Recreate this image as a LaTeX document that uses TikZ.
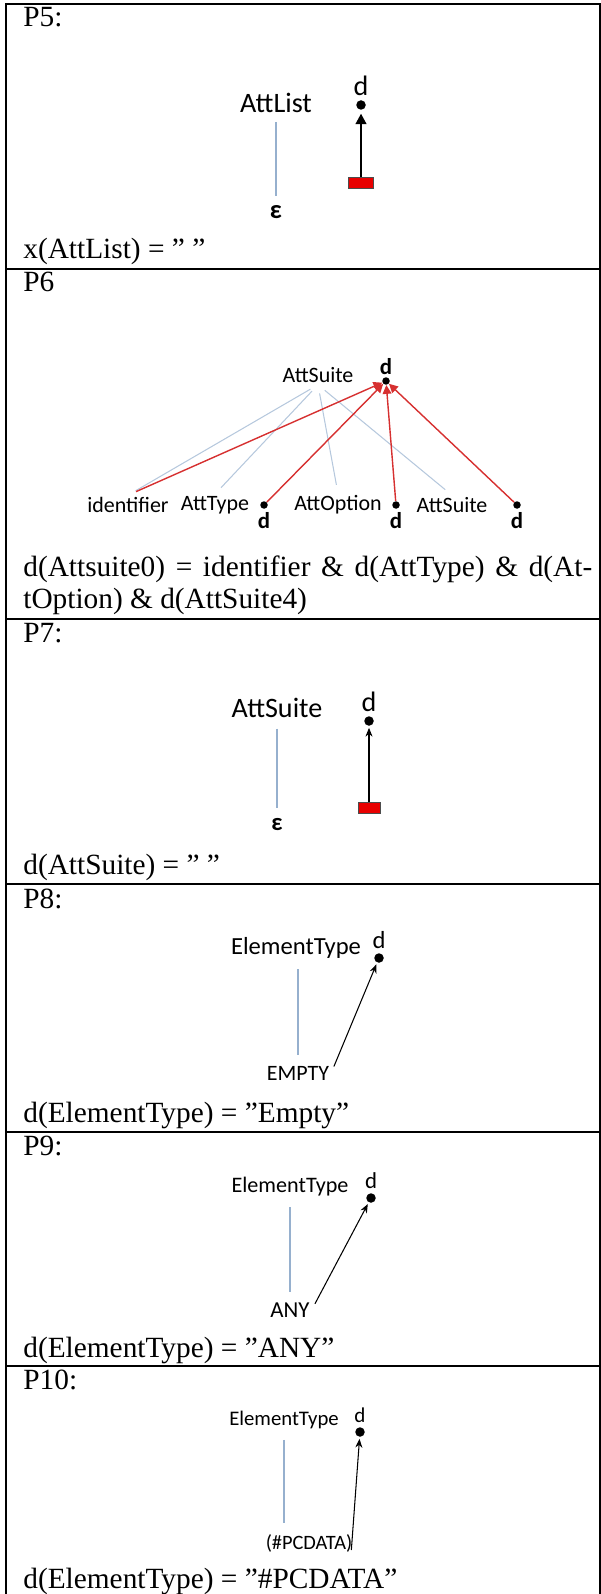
\documentclass[tikz,border=0pt]{standalone}
\usepackage{fontspec}
\setmainfont{Liberation Serif}
\newfontfamily\sansfont{Carlito}
\usetikzlibrary{arrows.meta, positioning}

\definecolor{treeblue}{RGB}{150, 176, 206}
\definecolor{linkred}{RGB}{214, 48, 48}
\definecolor{nullred}{RGB}{232, 0, 0}

\begin{document}
\begin{tikzpicture}[x=0.02cm, y=-0.02cm,
  head/.style={font=\fontsize{16.7}{18.7}\selectfont, anchor=base west, inner sep=0pt},
  sym/.style={font=\sansfont\fontsize{#1}{#1}\selectfont, inner sep=1pt},
  sym/.default=12,
  bsym/.style={font=\sansfont\bfseries\fontsize{#1}{#1}\selectfont, inner sep=1pt},
  bsym/.default=12,
  attdot/.style={circle, fill=black, inner sep=0pt, minimum size=0.19cm},
  nullbox/.style={draw=black!70, fill=nullred, minimum width=0.5cm, minimum height=0.22cm, inner sep=0pt},
  edge/.style={treeblue, line width=0.6pt},
  dep/.style={-{Stealth[length=5pt, width=4pt]}, line width=0.6pt, shorten >=1pt},
  link/.style={linkred, line width=0.8pt, -{Triangle[length=5pt, width=5pt]}}]

  \useasboundingbox (0,0) rectangle (601,1594);

  % table frame and row rules
  \draw[line width=0.7pt] (6,1594) -- (6,4) -- (600,4) -- (600,1594);
  \foreach \y in {269, 619, 884, 1132, 1366}
    \draw[line width=0.7pt] (6,\y) -- (600,\y);

  % P5: AttList -> epsilon
  \node[head] (h5) at (23,27) {P5:};
  \node[sym=16] (attlist5) at (276,103) {AttList};
  \node[bsym=15] (eps5) at (276,212) {ε};
  \draw[edge, shorten <=4pt, shorten >=4pt] (attlist5.south) -- (eps5.north);
  \node[attdot] (d5) at (361,105) {};
  \node[sym=16, above=1pt of d5] (d5lab) {d};
  \node[nullbox] (null5) at (361,183) {};
  \draw[-{Triangle[length=6pt, width=6pt]}, line width=1.4pt, shorten >=2pt] (null5) -- (d5);
  \node[head] (r5) at (23,259) {x(AttList) = ” ”};

  % P6: AttSuite -> identifier AttType AttOption AttSuite
  \node[head] (h6) at (23,292) {P6};
  \node[sym=12.5] (suite6) at (318,375) {AttSuite};
  \node[attdot, minimum size=0.15cm] (d6) at (386,381) {};
  \node[bsym=13, above=0pt of d6] (d6lab) {d};
  \node[sym=12.5] (ident6) at (128,505) {identifier};
  \node[sym=12.5] (type6) at (215,505) {AttType};
  \node[sym=12.5] (opt6) at (338,505) {AttOption};
  \node[sym=12.5] (kid6) at (452,505) {AttSuite};
  \node[attdot, minimum size=0.15cm] (dtype6) at (264,505) {};
  \node[attdot, minimum size=0.15cm] (dopt6) at (396,505) {};
  \node[attdot, minimum size=0.15cm] (dkid6) at (517,505) {};
  \foreach \n in {dtype6, dopt6, dkid6}
    \node[bsym=13, below=1pt of \n] {d};
  \foreach \c in {ident6, type6, opt6, kid6}
    \draw[edge, treeblue!70, shorten <=5pt, shorten >=5pt] (suite6.south) -- (\c.north);
  \draw[link, shorten <=5pt] (ident6.north) -- (d6);
  \foreach \n in {dtype6, dopt6, dkid6}
    \draw[link] (\n) -- (d6);
  \node[head, text width=11.38cm, align=justify] (r6) at (23,576)
    {d(Attsuite0) = identifier \& d(AttType) \& d(At-\linebreak tOption) \& d(AttSuite4)};

  % P7: AttSuite -> epsilon
  \node[head] (h7) at (23,642) {P7:};
  \node[sym=16] (suite7) at (277,708) {AttSuite};
  \node[bsym=14] (eps7) at (277,825) {ε};
  \draw[edge, shorten <=5pt, shorten >=5pt] (suite7.south) -- (eps7.north);
  \node[attdot] (d7) at (369,721) {};
  \node[sym=16, above=1pt of d7] (d7lab) {d};
  \node[nullbox, minimum width=0.44cm] (null7) at (369,808) {};
  \draw[dep] (null7) -- (d7);
  \node[head] (r7) at (23,874) {d(AttSuite) = ” ”};

  % P8: ElementType -> EMPTY
  \node[head] (h8) at (23,908) {P8:};
  \node[sym=14] (elem8) at (296,948) {ElementType};
  \node[attdot] (d8) at (379,958) {};
  \node[sym=14, above=1pt of d8] (d8lab) {d};
  \node[sym=12.5] (empty8) at (298,1073) {EMPTY};
  \draw[edge, shorten <=5pt, shorten >=5pt] (elem8.south -| empty8) -- (empty8.north);
  \draw[dep, shorten <=4pt] (empty8.east) -- (d8);
  \node[head] (r8) at (23,1122) {d(ElementType) = ”Empty”};

  % P9: ElementType -> ANY
  \node[head] (h9) at (23,1155) {P9:};
  \node[sym=12.6] (elem9) at (290,1187) {ElementType};
  \node[attdot] (d9) at (371,1198) {};
  \node[sym=13, above=1pt of d9] (d9lab) {d};
  \node[sym=13] (any9) at (290,1310) {ANY};
  \draw[edge, shorten <=5pt, shorten >=5pt] (elem9.south) -- (any9.north);
  \draw[dep, shorten <=4pt] (any9.east) -- (d9);
  \node[head] (r9) at (23,1357) {d(ElementType) = ”ANY”};

  % P10: ElementType -> (#PCDATA)
  \node[head] (h10) at (23,1389) {P10:};
  \node[sym=11.8] (elem10) at (284,1420) {ElementType};
  \node[attdot] (d10) at (360,1432) {};
  \node[sym=12, above=1pt of d10] (d10lab) {d};
  \node[sym=11.6] (pcdata10) at (309,1543) {(\#PCDATA)};
  \draw[edge, shorten <=5pt, shorten >=5pt] (elem10.south -| 284,0) -- (pcdata10.north -| 284,0);
  \draw[dep] (pcdata10.south east) ++(-3,-4) -- (d10);
  \node[head] (r10) at (23,1588) {d(ElementType) = ”\#PCDATA”};
\end{tikzpicture}
\end{document}
